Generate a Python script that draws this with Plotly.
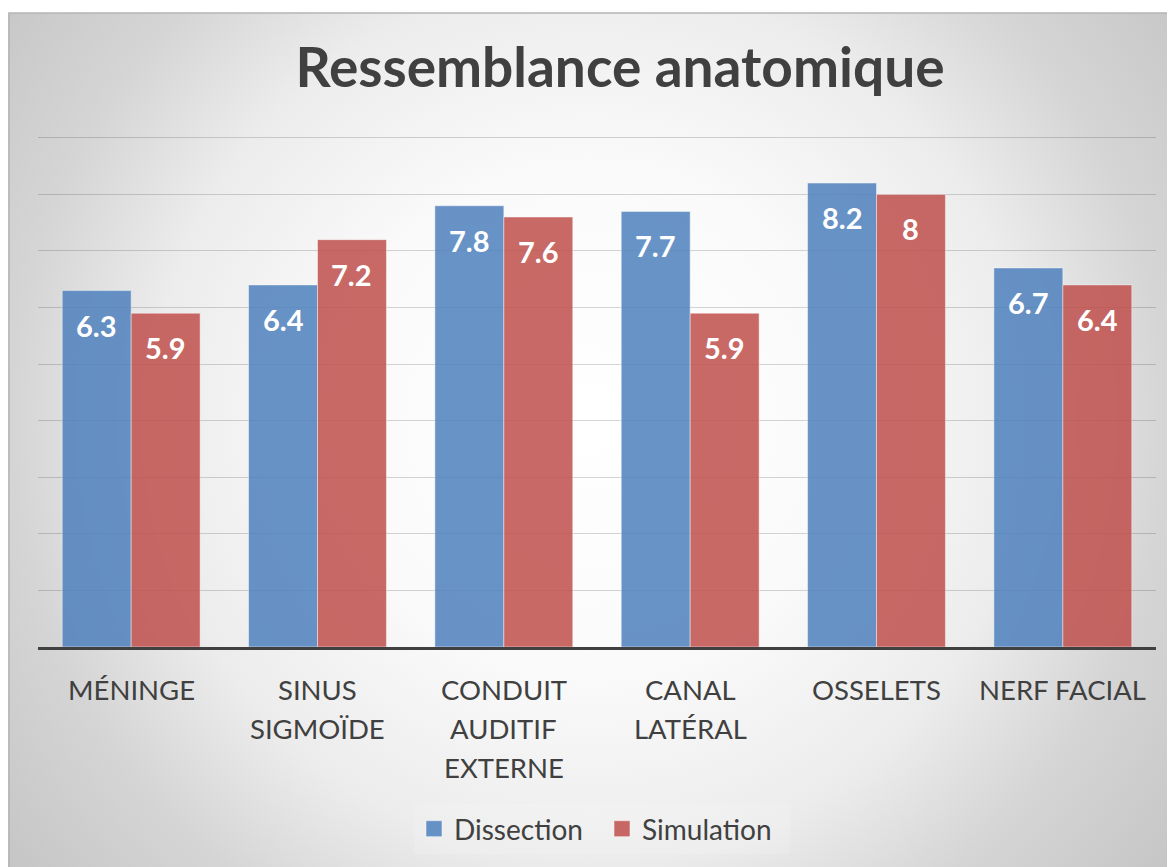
import base64
import plotly.graph_objects as go

categories = ["MÉNINGE", "SINUS<br>SIGMOÏDE", "CONDUIT<br>AUDITIF<br>EXTERNE",
              "CANAL<br>LATÉRAL", "OSSELETS", "NERF FACIAL"]
dissection = [6.3, 6.4, 7.8, 7.7, 8.2, 6.7]
simulation = [5.9, 7.2, 7.6, 5.9, 8.0, 6.4]
series_names = ["Dissection", "Simulation"]
title_text = "Ressemblance anatomique"

FONT = "Lato"
TXT = "#404040"
BLUE = "#4f81bd"
RED = "#c0504d"

W, H = 1167, 859
ML, MR, MT, MB = 30, 19, 127, 220
pw, ph = W - ML - MR, H - MT - MB
YMAX = 9.05

xs = list(range(len(categories)))
bargap = 0.26
bw = (1 - bargap) / 2

bx0, by0, bx1, by1 = 0, 5, W, H
BW_, BH_ = bx1 - bx0, by1 - by0
svg = f"""<svg xmlns='http://www.w3.org/2000/svg' width='{BW_}' height='{BH_}' viewBox='0 0 {BW_} {BH_}' preserveAspectRatio='none'>
<defs><radialGradient id='g' cx='582' cy='407' r='740' gradientUnits='userSpaceOnUse'>
<stop offset='0' stop-color='#ffffff'/><stop offset='0.34' stop-color='#fafafa'/>
<stop offset='0.595' stop-color='#ececec'/><stop offset='0.78' stop-color='#d5d5d5'/>
<stop offset='1' stop-color='#c5c5c5'/></radialGradient></defs>
<rect x='0' y='0' width='{BW_}' height='{BH_}' fill='url(#g)'/></svg>"""
src = "data:image/svg+xml;base64," + base64.b64encode(svg.encode()).decode()

px = lambda v: (v - ML) / pw
py = lambda v: (H - MB - v) / ph

fig = go.Figure()
for name, vals, col, sgn in [(series_names[0], dissection, BLUE, -1),
                             (series_names[1], simulation, RED, 1)]:
    fig.add_trace(go.Bar(
        x=xs, y=vals, name=name, showlegend=False,
        marker=dict(color=col, opacity=0.85,
                    line=dict(color="rgba(255,255,255,0.45)", width=1)),
        hoverinfo="skip",
    ))
    fig.add_trace(go.Scatter(
        x=[None], y=[None], mode="markers", name=name,
        marker=dict(symbol="square", size=18, color=col, opacity=0.85,
                    line=dict(color="rgba(255,255,255,0.5)", width=1)),
    ))
    for xi, v in zip(xs, vals):
        fig.add_annotation(
            x=xi + sgn * bw / 2, y=v, xref="x", yref="y",
            text=f"{v:g}", showarrow=False, yanchor="top", yshift=-15,
            font=dict(family=FONT, size=29, color="white", weight="bold"),
        )

# category labels, one line per annotation (Excel-like line spacing)
for xi, cat in zip(xs, categories):
    for k, line in enumerate(cat.split("<br>")):
        fig.add_annotation(
            x=xi, y=0, xref="x", yref="paper", text=line, showarrow=False,
            yanchor="middle", yshift=-(42 + 39 * k),
            font=dict(family=FONT, size=27.5, color=TXT),
        )

fig.add_layout_image(dict(
    source=src, xref="paper", yref="paper",
    x=px(bx0), y=py(by0), sizex=BW_ / pw, sizey=BH_ / ph,
    xanchor="left", yanchor="top", sizing="stretch", layer="below",
))
fig.add_shape(type="rect", xref="paper", yref="paper",
              x0=px(bx0 + 1), y0=py(by1 + 2), x1=px(bx1 + 2), y1=py(by0),
              line=dict(color="#b5b5b5", width=1.5), layer="below")

fig.update_layout(
    width=W, height=H,
    margin=dict(l=ML, r=MR, t=MT, b=MB),
    paper_bgcolor="white", plot_bgcolor="rgba(0,0,0,0)",
    barmode="group", bargap=bargap, bargroupgap=0.0,
    title=dict(text=title_text, x=px(612), xanchor="center", xref="paper",
               y=1 - 60 / H, yanchor="middle",
               font=dict(family=FONT, size=55, color=TXT, weight="bold")),
    showlegend=True,
    legend=dict(orientation="h", x=px(594), xanchor="center", xref="paper",
                y=py(821), yanchor="middle",
                font=dict(family=FONT, size=28, color=TXT),
                bgcolor="rgba(255,255,255,0.15)",
                entrywidth=143, entrywidthmode="pixels",
                traceorder="normal", itemclick=False),
    xaxis=dict(tickvals=xs, showticklabels=False, range=[-0.5, len(xs) - 0.5],
               showgrid=False, zeroline=False, showline=True,
               linecolor="#404040", linewidth=3, ticks=""),
    yaxis=dict(range=[0, YMAX], tickvals=list(range(1, 10)),
               showticklabels=False, zeroline=False,
               showgrid=True, gridcolor="rgba(0,0,0,0.16)", gridwidth=1,
               showline=False),
)

fig.write_html("out.html")
